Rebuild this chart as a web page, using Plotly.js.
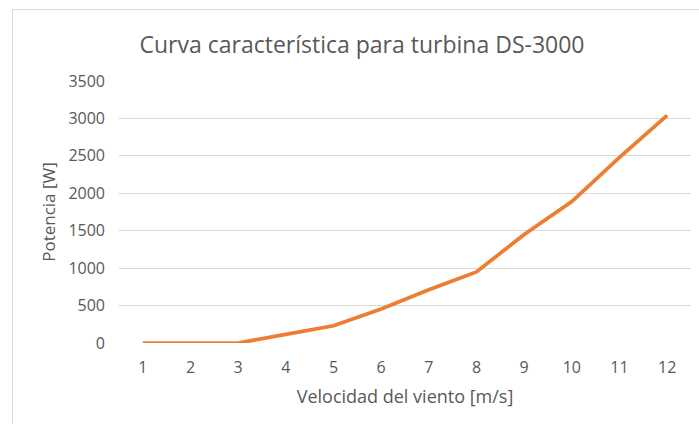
<!DOCTYPE html>
<html>
<head>
<meta charset="utf-8">
<script src="https://cdn.plot.ly/plotly-3.0.1.min.js"></script>
<style>html,body{margin:0;padding:0;background:#fff;}#chart{width:699px;height:424px;}</style>
</head>
<body>
<div id="chart"></div>
<script>
const velocidad = ["1","2","3","4","5","6","7","8","9","10","11","12"];
const potencia = [0, 0, 0, 115, 230, 455, 710, 950, 1450, 1890, 2480, 3040];
const yTicks = [0, 500, 1000, 1500, 2000, 2500, 3000, 3500];

const FONT = "'Open Sans', 'Noto Sans', sans-serif";
const GRAY = "#595959";
const GRID = "#d9d9d9";

const trace = {
  x: velocidad,
  y: potencia,
  type: "scatter",
  mode: "lines",
  line: {color: "#ed7d31", width: 3.75},
  hoverinfo: "skip"
};

const layout = {
  width: 699, height: 424,
  margin: {l: 119, r: 8, t: 81, b: 81, pad: 0},
  paper_bgcolor: "#fff", plot_bgcolor: "#fff",
  showlegend: false,
  title: {
    text: "Curva característica para turbina DS-3000",
    font: {family: FONT, size: 23, color: GRAY},
    x: 362/699, xanchor: "center", xref: "container",
    y: 1 - 45/424, yanchor: "middle", yref: "container"
  },
  xaxis: {
    type: "category",
    range: [-0.5, 11.5],
    showgrid: false, zeroline: false,
    showline: false,
    ticks: "",
    ticklabelstandoff: 13,
    tickfont: {family: FONT, size: 16, color: GRAY},
    title: {text: "Velocidad del viento [m/s]", font: {family: FONT, size: 18, color: GRAY}, standoff: 13},
    fixedrange: true
  },
  yaxis: {
    range: [0, 3500],
    tickvals: yTicks,
    ticktext: yTicks.map(String),
    showgrid: true, gridcolor: GRID, gridwidth: 1,
    zeroline: false, showline: false,
    ticks: "",
    ticklabelstandoff: 13,
    tickfont: {family: FONT, size: 16, color: GRAY},
    title: {text: "Potencia [W]", font: {family: FONT, size: 17, color: GRAY}, standoff: 8},
    fixedrange: true
  },
  shapes: [
    {type: "line", xref: "paper", yref: "paper", x0: (12.5-119)/572, x1: 2, y0: 1 + (81-9.5)/262, y1: 1 + (81-9.5)/262, line: {color: GRID, width: 1}},
    {type: "line", xref: "paper", yref: "paper", x0: (12.5-119)/572, x1: (12.5-119)/572, y0: 1 + (81-9.5)/262, y1: -2, line: {color: GRID, width: 1}}
  ]
};

Plotly.newPlot("chart", [trace], layout, {displayModeBar: false, staticPlot: true});
</script>
</body>
</html>
